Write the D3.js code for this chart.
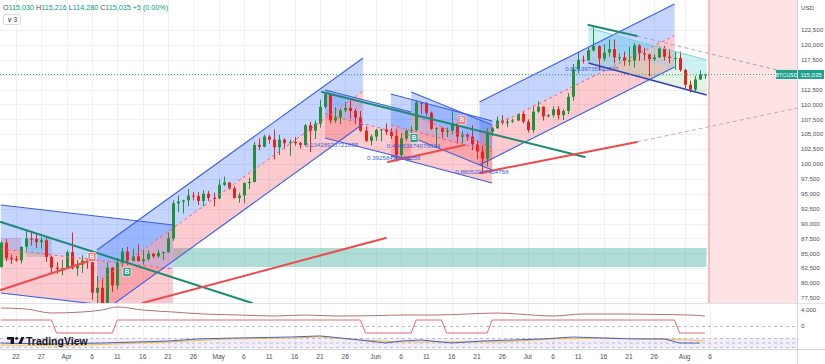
<!DOCTYPE html>
<html><head><meta charset="utf-8">
<script src="https://cdn.jsdelivr.net/npm/d3@7"></script>
<style>
body{margin:0;background:#fff;overflow:hidden}
svg{display:block}
text{font-family:"Liberation Sans",Arial,sans-serif}
</style>
</head><body>
<svg id="c" width="825" height="364"></svg>
<script>
// ---------------- DATA ----------------
const startDate = "2025-03-19";
// daily candles [open, high, low, close] in thousand USD, Mar 19 -> Aug 5
const ohlc = [
[82.7,87.0,82.6,86.8],[86.8,87.4,83.7,84.2],[84.2,84.8,83.2,84.0],[84.0,84.5,83.6,83.8],[83.8,86.1,83.3,86.1],
[86.1,88.8,85.5,87.5],[87.5,88.5,86.3,87.4],[87.4,88.3,85.9,86.9],[86.9,87.8,85.8,87.2],[87.2,87.5,83.6,84.4],
[84.4,84.6,81.6,82.6],[82.6,83.5,81.6,82.4],[82.4,83.9,81.3,82.5],
[82.5,85.5,82.4,85.2],[85.2,88.5,82.3,82.5],[82.5,83.9,81.2,83.1],[83.1,84.7,81.7,83.8],[83.8,84.2,82.4,83.5],
[83.5,83.8,77.2,78.4],[78.4,81.2,74.5,79.2],[79.2,80.8,76.2,76.3],[76.3,83.5,74.6,82.6],[82.6,82.7,78.5,79.6],
[79.6,84.2,78.9,83.4],[83.4,85.9,82.7,85.3],[85.3,86.1,83.0,83.7],[83.7,85.8,83.7,84.5],[84.5,86.5,83.6,83.7],
[83.7,85.5,83.1,84.0],[84.0,85.5,83.8,84.9],[84.9,85.1,84.2,84.5],[84.5,85.6,84.3,85.1],[85.1,85.3,83.9,85.2],
[85.2,88.5,85.1,87.5],[87.5,93.9,87.1,93.4],[93.4,94.7,91.9,93.7],[93.7,94.0,91.7,93.9],[93.9,95.8,92.9,94.7],
[94.7,95.3,93.9,94.6],[94.6,95.3,93.1,93.8],[93.8,95.6,92.9,95.0],[95.0,95.5,93.8,94.3],[94.3,95.2,92.9,94.2],
[94.2,97.4,94.1,96.5],[96.5,97.9,96.3,96.9],[96.9,96.9,95.7,95.9],[95.9,96.3,94.2,94.3],[94.3,95.2,93.5,94.7],
[94.7,96.9,93.4,96.8],[96.8,97.7,95.8,97.0],[97.0,103.7,96.9,103.2],[103.2,104.3,102.3,102.9],[102.9,104.9,102.8,104.6],
[104.6,104.9,103.4,104.1],[104.1,105.8,100.8,102.8],[102.8,104.9,101.5,104.1],[104.1,104.3,102.6,103.5],[103.5,104.1,101.4,103.7],
[103.7,104.5,103.1,103.5],[103.5,103.7,102.6,103.2],[103.2,106.7,103.1,106.5],[106.5,107.1,102.0,105.6],[105.6,107.3,104.2,106.8],
[106.8,110.8,106.1,109.6],[109.6,111.9,109.3,111.7],[111.7,111.8,106.8,107.3],[107.3,109.5,106.9,107.8],[107.8,109.3,106.7,109.0],
[109.0,110.4,108.7,109.4],[109.4,110.7,107.6,108.9],[108.9,109.3,106.7,107.8],[107.8,108.9,105.4,105.6],[105.6,106.3,103.7,103.9],
[103.9,104.9,103.1,104.6],
[104.6,105.9,103.9,105.7],[105.7,105.9,103.8,105.8],[105.8,106.8,104.9,105.4],[105.4,106.0,104.2,104.7],[104.7,105.9,100.4,101.5],
[101.5,105.0,101.1,104.3],[104.3,105.9,103.9,105.6],[105.6,106.4,105.1,105.7],[105.7,110.6,105.4,110.3],[110.3,110.4,108.4,110.2],
[110.2,110.4,108.1,108.6],[108.6,108.8,105.7,105.9],[105.9,106.2,102.8,106.0],[106.0,106.2,104.3,105.4],[105.4,106.1,104.5,105.6],
[105.6,108.9,105.0,106.8],[106.8,107.7,103.4,104.6],[104.6,105.5,103.5,104.9],[104.9,105.2,103.9,104.6],[104.6,106.5,102.3,103.3],
[103.3,104.0,100.8,102.1],[102.1,103.1,98.3,100.9],[100.9,106.1,99.6,105.4],[105.4,106.3,104.7,106.0],[106.0,108.0,105.9,107.3],
[107.3,108.2,106.6,106.9],[106.9,107.7,106.2,107.1],[107.1,107.6,106.9,107.3],[107.3,108.4,107.2,108.4],[108.4,108.8,106.8,107.1],
[107.1,107.5,105.3,105.7],[105.7,109.8,105.2,108.8],[108.8,110.5,108.6,109.6],[109.6,109.7,107.3,108.0],[108.0,108.4,107.8,108.2],
[108.2,109.7,107.8,109.2],[109.2,109.7,107.5,108.2],[108.2,109.2,107.4,108.9],[108.9,111.9,108.4,111.3],[111.3,116.8,110.6,115.9],
[115.9,118.9,115.2,117.5],[117.5,118.2,116.9,117.4],[117.4,119.5,117.3,119.1],[119.1,123.2,118.9,119.8],[119.8,119.9,115.7,117.7],
[117.7,120.1,117.3,118.7],[118.7,120.9,118.0,119.3],[119.3,120.9,116.9,117.9],[117.9,118.6,117.3,117.9],[117.9,118.9,116.5,117.3],
[117.3,119.7,116.5,117.4],[117.4,120.3,116.2,119.9],[119.9,120.1,117.3,118.6],[118.6,119.5,117.4,118.4],[118.4,118.5,114.7,117.6],
[117.6,118.4,117.3,117.9],[117.9,119.8,117.8,119.4],[119.4,119.8,117.4,118.0],[118.0,119.3,116.9,117.8],[117.8,118.8,115.8,117.8],
[117.8,118.9,115.5,115.8],
[115.8,116.0,112.7,113.3],[113.3,114.0,112.0,112.5],[112.5,114.8,112.2,114.2],[114.2,115.7,114.1,115.03],[115.03,115.216,114.28,115.035]
];
const lastPrice = 115035;
const header = [["O","115,030"],["H","115,216"],["L","114,280"],["C","115,035"],["","+5 (0.00%)"]];

const priceTicks = [77500,80000,82500,85000,87500,90000,92500,95000,97500,100000,102500,105000,107500,110000,112500,115000,117500,120000,122500];
const priceTickLabels = ["77,500","80,000","82,500","85,000","87,500","90,000","92,500","95,000","97,500","100,000","102,500","105,000","107,500","110,000","112,500","115,000","117,500","120,000","122,500"];
const dateTicks = ["2025-03-22","2025-03-27","2025-04-01","2025-04-06","2025-04-11","2025-04-16","2025-04-21","2025-04-26","2025-05-01","2025-05-06","2025-05-11","2025-05-16","2025-05-21","2025-05-26","2025-06-01","2025-06-06","2025-06-11","2025-06-16","2025-06-21","2025-06-26","2025-07-01","2025-07-06","2025-07-11","2025-07-16","2025-07-21","2025-07-26","2025-08-01","2025-08-06"];
const dateTickLabels = ["22","27","Apr","6","11","16","21","26","May","6","11","16","21","26","Jun","6","11","16","21","26","Jul","6","11","16","21","26","Aug","6"];

// regression trend tools: [start, end, upper price at start, upper price at end, channel width]
const regressions = [
  ["2025-03-19","2025-04-22", 93118, 89760, 14775],
  ["2025-04-07","2025-05-29T12:00", 85562, 117799, 11081],
  ["2025-05-22","2025-06-08", 112426, 108733, 8059],
  ["2025-06-04","2025-06-24", 111754, 107221, 10400],
  ["2025-06-08","2025-06-24", 112090, 106550, 7556],
  ["2025-06-21T12:00","2025-07-30", 110411, 126865, 10578]
];
// parallel channel: [start, end, top start, top end, width]
const channels = [["2025-07-13","2025-08-05T08:00", 122836, 117463, 5877]];
// solid trend lines: [d1, p1, d2, p2, colour key]
const trendLines = [
  ["2025-03-19", 90263, "2025-05-07T14:00", 76663, "g"],
  ["2025-05-21T10:00", 112090, "2025-07-12T06:00", 101177, "g"],
  ["2025-07-13", 123340, "2025-07-22T14:00", 121493, "g"],
  ["2025-03-19", 78847, "2025-04-06", 83883, "r"],
  ["2025-04-16", 76663, "2025-06-03", 87577, "r"],
  ["2025-06-03T10:00", 100337, "2025-06-18T14:00", 103192, "r"],
  ["2025-06-21T14:00", 98490, "2025-07-22T14:00", 103695, "r"]
];
const dashedLines = [
  ["2025-07-22T14:00", 121493, "2025-08-19T05:00", 115784],
  ["2025-07-22T14:00", 103695, "2025-08-23T05:00", 109404]
];
// rectangles: [d1, d2, p top, p bottom, kind]
const zones = [
  ["2025-04-22", "2025-08-05T08:00", 85898, 82708, "teal"],
  ["2025-03-19", "2025-03-23", 87577, 83883, "pink"],
  ["2025-03-24", "2025-03-29", 87577, 84387, "cyan"]
];
const futureZoneStart = "2025-08-05T19:00";
const signalLabels = [
  ["2025-04-06", 84387, "B", "r"],
  ["2025-06-18", 107389, "B", "r"],
  ["2025-04-12T22:00", 81868, "B", "g"],
  ["2025-06-08T14:00", 104367, "B", "g"]
];
const pearsonTexts = [
  ["2025-05-18", 102856, "0.13428923721855"],
  ["2025-06-03T05:00", 102688, "0.48663674076624"],
  ["2025-05-30T07:00", 100673, "0.39258497156356"],
  ["2025-06-16T17:00", 98322, "0.88052057454758"],
  ["2025-07-08T10:00", 115616, "0.82139735995227"]
];
// indicator pane 1
const oscLine = [["2025-03-19",4500],["2025-03-24",4250],["2025-03-29",3250],["2025-04-04",3500],["2025-04-08",4000],["2025-04-11",4750],["2025-04-16",4000],["2025-04-22",3500],["2025-04-28",3000],["2025-05-05",2750],["2025-05-12",2500],["2025-05-18",2750],["2025-05-24",2500],["2025-06-01",2600],["2025-06-07",2750],["2025-06-13",2750],["2025-06-19",3000],["2025-06-25",3250],["2025-06-29",3000],["2025-07-06",2500],["2025-07-12",3000],["2025-07-19",3000],["2025-07-26",2900],["2025-08-02",2750],["2025-08-05",2500]];
const stepLine = [["2025-03-19",1500],["2025-03-29",1500],["2025-03-30",-1750],["2025-04-10",-1750],["2025-04-11",1500],["2025-05-29",1500],["2025-05-30",-1750],["2025-06-08",-1750],["2025-06-09",1500],["2025-06-14",1500],["2025-06-15",-1750],["2025-06-23",-1750],["2025-06-24",1500],["2025-07-30",1500],["2025-07-31",-1750],["2025-08-05",-1750]];
const osc1Ticks = [0, 4000], osc1Labels = ["0","4,000"];
// indicator pane 2
const kLine = [["2025-03-19",50],["2025-03-29",43],["2025-04-08",50],["2025-04-21",63],["2025-04-27",77],["2025-05-04",83],["2025-05-11",87],["2025-05-15",90],["2025-05-21",97],["2025-05-27",77],["2025-06-03",50],["2025-06-06",63],["2025-06-10",70],["2025-06-16",50],["2025-06-22",63],["2025-06-28",70],["2025-07-04",77],["2025-07-10",90],["2025-07-16",83],["2025-07-22",77],["2025-07-28",77],["2025-07-31",50],["2025-08-04",50]];
const dLine = [["2025-03-19",37],["2025-03-31",30],["2025-04-10",43],["2025-04-21",57],["2025-05-03",77],["2025-05-15",83],["2025-05-21",90],["2025-05-29",70],["2025-06-06",57],["2025-06-16",57],["2025-06-26",57],["2025-07-06",77],["2025-07-16",83],["2025-07-26",77],["2025-08-02",70],["2025-08-05",63]];
const bandLevels = [20, 50, 80];

// ---------------- LAYOUT ----------------
const svg = d3.select("#c");
const plotR = 797, mainB = 303, p1T = 303, p1B = 334, p2B = 349;
const P = d3.isoParse;
const x = d3.scaleTime().domain([P("2025-03-22"), P("2025-08-06")]).range([16, 710]);
const y = d3.scaleLinear().domain([77500, 122500]).range([298, 30]);
const y1 = d3.scaleLinear().domain([0, 4000]).range([326, 310]);
const y2 = d3.scaleLinear().domain([0, 100]).range([350.5, 335.5]);
const green = "#21913c", red = "#e8231f", teal = "#1d8a72";
const gridC = "#eef0f4";

svg.append("rect").attr("width", 825).attr("height", 364).attr("fill", "#fff");
const defs = svg.append("defs");
defs.append("clipPath").attr("id", "cm").append("rect").attr("x", 0).attr("y", 0).attr("width", plotR).attr("height", mainB);
defs.append("clipPath").attr("id", "cp").append("rect").attr("x", 0).attr("y", p1T).attr("width", plotR).attr("height", p2B - p1T);

// grid
const grid = svg.append("g");
grid.selectAll(".vg").data(dateTicks).join("line")
  .attr("x1", d => Math.round(x(P(d))) + .5).attr("x2", d => Math.round(x(P(d))) + .5)
  .attr("y1", 0).attr("y2", p2B).attr("stroke", gridC);
grid.selectAll(".hg").data(priceTicks).join("line")
  .attr("x1", 0).attr("x2", plotR).attr("y1", d => Math.round(y(d)) + .5).attr("y2", d => Math.round(y(d)) + .5)
  .attr("stroke", gridC);

const main = svg.append("g").attr("clip-path", "url(#cm)");

// future zone
const fz = x(P(futureZoneStart));
main.append("rect").attr("x", fz).attr("y", 0).attr("width", plotR - fz).attr("height", mainB).attr("fill", "#fde3e3");
main.append("line").attr("x1", fz).attr("x2", fz).attr("y1", 0).attr("y2", mainB).attr("stroke", "#e98a8a").attr("stroke-width", 1);

// zones
const zoneFill = {teal: "rgba(8,153,129,0.33)", pink: "rgba(242,54,69,0.22)", cyan: "rgba(0,150,170,0.22)"};
main.selectAll(".zone").data(zones).join("rect")
  .attr("x", d => x(P(d[0]))).attr("width", d => x(P(d[1])) - x(P(d[0])))
  .attr("y", d => y(d[2])).attr("height", d => y(d[3]) - y(d[2]))
  .attr("fill", d => zoneFill[d[4]]);

// regression fills
const poly = pts => "M" + pts.map(p => p.join(",")).join("L") + "Z";
regressions.forEach(r => {
  const x1 = x(P(r[0])), x2 = x(P(r[1]));
  const u1 = r[2], u2 = r[3], w = r[4];
  main.append("path").attr("d", poly([[x1, y(u1)], [x2, y(u2)], [x2, y(u2 - w / 2)], [x1, y(u1 - w / 2)]]))
    .attr("fill", "rgba(41,98,255,0.27)");
  main.append("path").attr("d", poly([[x1, y(u1 - w / 2)], [x2, y(u2 - w / 2)], [x2, y(u2 - w)], [x1, y(u1 - w)]]))
    .attr("fill", "rgba(242,54,69,0.26)");
});
channels.forEach(c => {
  const x1 = x(P(c[0])), x2 = x(P(c[1]));
  const t1 = c[2], t2 = c[3], w = c[4];
  main.append("path").attr("d", poly([[x1, y(t1)], [x2, y(t2)], [x2, y(t2 - w / 2)], [x1, y(t1 - w / 2)]]))
    .attr("fill", "rgba(0,188,212,0.2)");
  main.append("path").attr("d", poly([[x1, y(t1 - w / 2)], [x2, y(t2 - w / 2)], [x2, y(t2 - w)], [x1, y(t1 - w)]]))
    .attr("fill", "rgba(76,175,80,0.16)");
});

// candles
const candles = ohlc.map((r, i) => ({date: d3.utcDay.offset(P(startDate), i), o: r[0] * 1000, h: r[1] * 1000, l: r[2] * 1000, c: r[3] * 1000}));
const cg = main.append("g");
candles.forEach(d => {
  const cx = Math.round(x(d.date)) + .5;
  const col = d.c >= d.o ? green : red;
  cg.append("line").attr("x1", cx).attr("x2", cx).attr("y1", y(d.h)).attr("y2", y(d.l)).attr("stroke", col).attr("stroke-width", 1);
  const top = y(Math.max(d.o, d.c)), bot = y(Math.min(d.o, d.c));
  cg.append("rect").attr("x", cx - 1.5).attr("width", 3).attr("y", top).attr("height", Math.max(1, bot - top)).attr("fill", col);
});

// regression lines
regressions.forEach(r => {
  const x1 = x(P(r[0])), x2 = x(P(r[1]));
  const u1 = r[2], u2 = r[3], w = r[4];
  [[0, "#3b5ee0", null], [w, "#3b5ee0", null], [w / 2, "#f0606c", "3,3"]].forEach(([off, col, dash]) => {
    main.append("line").attr("x1", x1).attr("y1", y(u1 - off)).attr("x2", x2).attr("y2", y(u2 - off))
      .attr("stroke", col).attr("stroke-width", off === w / 2 ? 1 : 1.1).attr("stroke-dasharray", dash);
  });
});
channels.forEach(c => {
  const x1 = x(P(c[0])), x2 = x(P(c[1]));
  main.append("line").attr("x1", x1).attr("y1", y(c[2])).attr("x2", x2).attr("y2", y(c[3])).attr("stroke", "#7fd0da").attr("stroke-width", 1);
  main.append("line").attr("x1", x1).attr("y1", y(c[2] - c[4])).attr("x2", x2).attr("y2", y(c[3] - c[4])).attr("stroke", "#2f3fb5").attr("stroke-width", 1.5);
});

// trend lines
main.selectAll(".tl").data(trendLines).join("line")
  .attr("x1", d => x(P(d[0]))).attr("y1", d => y(d[1])).attr("x2", d => x(P(d[2]))).attr("y2", d => y(d[3]))
  .attr("stroke", d => d[4] === "g" ? teal : "#ee4a4a").attr("stroke-width", 2).attr("stroke-linecap", "round");
main.selectAll(".dl").data(dashedLines).join("line")
  .attr("x1", d => x(P(d[0]))).attr("y1", d => y(d[1])).attr("x2", d => x(P(d[2]))).attr("y2", d => y(d[3]))
  .attr("stroke", (d, i) => i === 0 ? "#a9a0b8" : "#e09aa6").attr("stroke-width", 1).attr("stroke-dasharray", "4,3");

// last price dotted line
main.append("line").attr("x1", 0).attr("x2", plotR).attr("y1", Math.round(y(lastPrice)) + .5).attr("y2", Math.round(y(lastPrice)) + .5)
  .attr("stroke", "#3aa595").attr("stroke-dasharray", "1,2").attr("stroke-width", 1);

// pearson texts
main.selectAll(".pt").data(pearsonTexts).join("text")
  .attr("x", d => x(P(d[0]))).attr("y", d => y(d[1])).text(d => d[2])
  .attr("font-size", 6.2).attr("fill", "#3d5fd6");

// signal labels
signalLabels.forEach(s => {
  const cx = x(P(s[0])), cy = y(s[1]);
  const g = main.append("g");
  g.append("rect").attr("x", cx - 4).attr("y", cy - 4.5).attr("width", 8).attr("height", 9).attr("rx", 1)
    .attr("fill", s[3] === "r" ? "#f07c7c" : "#26a08c").attr("stroke", "#fff").attr("stroke-width", 0.6);
  g.append("text").attr("x", cx).attr("y", cy + 2.3).attr("text-anchor", "middle").attr("font-size", 6.5)
    .attr("font-weight", "bold").attr("fill", "#fff").text(s[2]);
});

// ---------------- indicator panes ----------------
const pane = svg.append("g").attr("clip-path", "url(#cp)");
pane.append("line").attr("x1", 0).attr("x2", plotR).attr("y1", y1(0) + .5).attr("y2", y1(0) + .5)
  .attr("stroke", "#b8bcc8").attr("stroke-dasharray", "3,3");
const lineGen = (ys) => d3.line().x(d => x(P(d[0]))).y(d => ys(d[1]));
pane.append("path").attr("d", lineGen(y1).curve(d3.curveMonotoneX)(oscLine)).attr("fill", "none").attr("stroke", "#a8625f").attr("stroke-width", 0.9);
pane.append("path").attr("d", lineGen(y1)(stepLine)).attr("fill", "none").attr("stroke", "#e46c6c").attr("stroke-width", 1);

// band in pane 2
pane.append("rect").attr("x", 0).attr("width", plotR).attr("y", y2(80)).attr("height", y2(20) - y2(80)).attr("fill", "rgba(126,87,194,0.1)");
pane.selectAll(".bl").data(bandLevels).join("line")
  .attr("x1", 0).attr("x2", plotR).attr("y1", d => y2(d)).attr("y2", d => y2(d))
  .attr("stroke", "#b6aacd").attr("stroke-dasharray", "3,3").attr("stroke-width", 0.8);
pane.append("path").attr("d", lineGen(y2)(dLine)).attr("fill", "none").attr("stroke", "#f2bf3c").attr("stroke-width", 1);
pane.append("path").attr("d", lineGen(y2)(kLine)).attr("fill", "none").attr("stroke", "#4e5fc0").attr("stroke-width", 1);

// separators
svg.append("line").attr("x1", 0).attr("x2", 825).attr("y1", mainB + .5).attr("y2", mainB + .5).attr("stroke", "#e0e3eb");
svg.append("line").attr("x1", 0).attr("x2", 825).attr("y1", p2B + .5).attr("y2", p2B + .5).attr("stroke", "#d1d4dc");
svg.append("line").attr("x1", plotR + .5).attr("x2", plotR + .5).attr("y1", 0).attr("y2", 364).attr("stroke", "#d1d4dc");

// TradingView logo
const logo = svg.append("g").attr("fill", "#131722");
logo.append("rect").attr("x", 7).attr("y", 337).attr("width", 7).attr("height", 2.6);
logo.append("rect").attr("x", 10.6).attr("y", 337).attr("width", 3.4).attr("height", 7);
logo.append("circle").attr("cx", 16.6).attr("cy", 338.4).attr("r", 1.4);
logo.append("path").attr("d", "M18.3,344 L21.3,337 L24.4,337 L21.4,344 Z");
svg.append("text").attr("x", 26).attr("y", 344.5).attr("font-size", 10.5).attr("font-weight", 600).attr("fill", "#131722").text("TradingView");

// ---------------- axes ----------------
const ly = y(lastPrice);
const ax = svg.append("g").attr("font-size", 6.1).attr("fill", "#4a4e5a");
// tick labels hidden where the last-price badge covers them (as the platform does)
ax.selectAll(".pl").data(priceTicks.filter(d => Math.abs(y(d) - ly) > 7)).join("text")
  .attr("x", 801).attr("y", d => y(d) + 2.2).text(d => priceTickLabels[priceTicks.indexOf(d)]);
ax.selectAll(".ol").data(osc1Ticks).join("text")
  .attr("x", 801).attr("y", d => y1(d) + 2.2).text((d, i) => osc1Labels[i]);
ax.append("text").attr("x", 801).attr("y", 10).text("USD");
ax.selectAll(".dlb").data(dateTicks).join("text")
  .attr("x", d => x(P(d))).attr("y", 359).attr("text-anchor", "middle").attr("font-size", 6.6).text((d, i) => dateTickLabels[i]);

// last price labels
svg.append("rect").attr("x", 776).attr("y", ly - 4.5).attr("width", 21).attr("height", 9).attr("fill", "#22a08e");
svg.append("text").attr("x", 786.5).attr("y", ly + 2.1).attr("text-anchor", "middle").attr("font-size", 5.4).attr("fill", "#fff").text("BTCUSD");
svg.append("rect").attr("x", 798).attr("y", ly - 4.5).attr("width", 26).attr("height", 9).attr("fill", "#22a08e");
svg.append("text").attr("x", 811).attr("y", ly + 2.2).attr("text-anchor", "middle").attr("font-size", 6).attr("fill", "#fff").text(d3.format(",")(lastPrice));

// header
const ht = svg.append("text").attr("x", 3).attr("y", 10).attr("font-size", 7.2);
header.forEach((h, i) => {
  ht.append("tspan").attr("fill", "#50535e").text((i ? " " : "") + h[0]);
  ht.append("tspan").attr("fill", "#089981").text(h[1]);
});
svg.append("rect").attr("x", 3.5).attr("y", 14.5).attr("width", 17).attr("height", 10).attr("rx", 2)
  .attr("fill", "#fff").attr("stroke", "#d6d9e0");
svg.append("text").attr("x", 12).attr("y", 22).attr("text-anchor", "middle").attr("font-size", 6.5).attr("fill", "#333").text("∨ 3");
</script>
</body></html>
